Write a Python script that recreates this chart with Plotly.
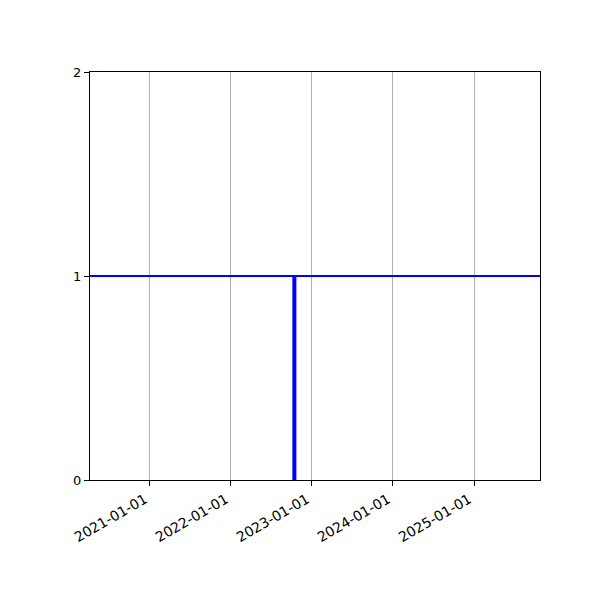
import plotly.graph_objects as go

# event at one date, level line at 1
event_dates = ["2022-10-14"]
event_values = [1]
level = 1
x_range = ["2020-04-06", "2025-10-25"]
tick_dates = ["2021-01-01", "2022-01-01", "2023-01-01", "2024-01-01", "2025-01-01"]
y_ticks = [0, 1, 2]

fig = go.Figure()

fig.add_trace(go.Bar(
    x=event_dates, y=event_values,
    width=[18 * 24 * 3600 * 1000],
    marker=dict(color="blue", line=dict(width=0)),
    showlegend=False,
))

fig.add_hline(y=level, line_color="blue", line_width=2)

# the page body adds an 8px offset, so margins are shifted to match
fig.update_layout(
    width=600, height=600,
    margin=dict(l=82, r=68, t=64, b=128),
    plot_bgcolor="white",
    paper_bgcolor="white",
    font=dict(family="DejaVu Sans", size=13, color="black"),
    showlegend=False,
)

fig.update_xaxes(
    type="date",
    range=x_range,
    tickvals=tick_dates,
    ticktext=tick_dates,
    tickangle=-30,
    tickfont=dict(size=14),
    ticklabelshift=-5,
    showgrid=True, gridcolor="#b0b0b0", gridwidth=1,
    showline=True, linecolor="black", linewidth=1, mirror=True,
    ticks="outside", ticklen=5, tickcolor="black",
    zeroline=False,
)
fig.update_yaxes(
    range=[0, 2],
    tickvals=y_ticks,
    showgrid=False,
    showline=True, linecolor="black", linewidth=1, mirror=True,
    ticks="outside", ticklen=5, tickcolor="black",
    zeroline=False,
)

fig.write_html("out.html")
